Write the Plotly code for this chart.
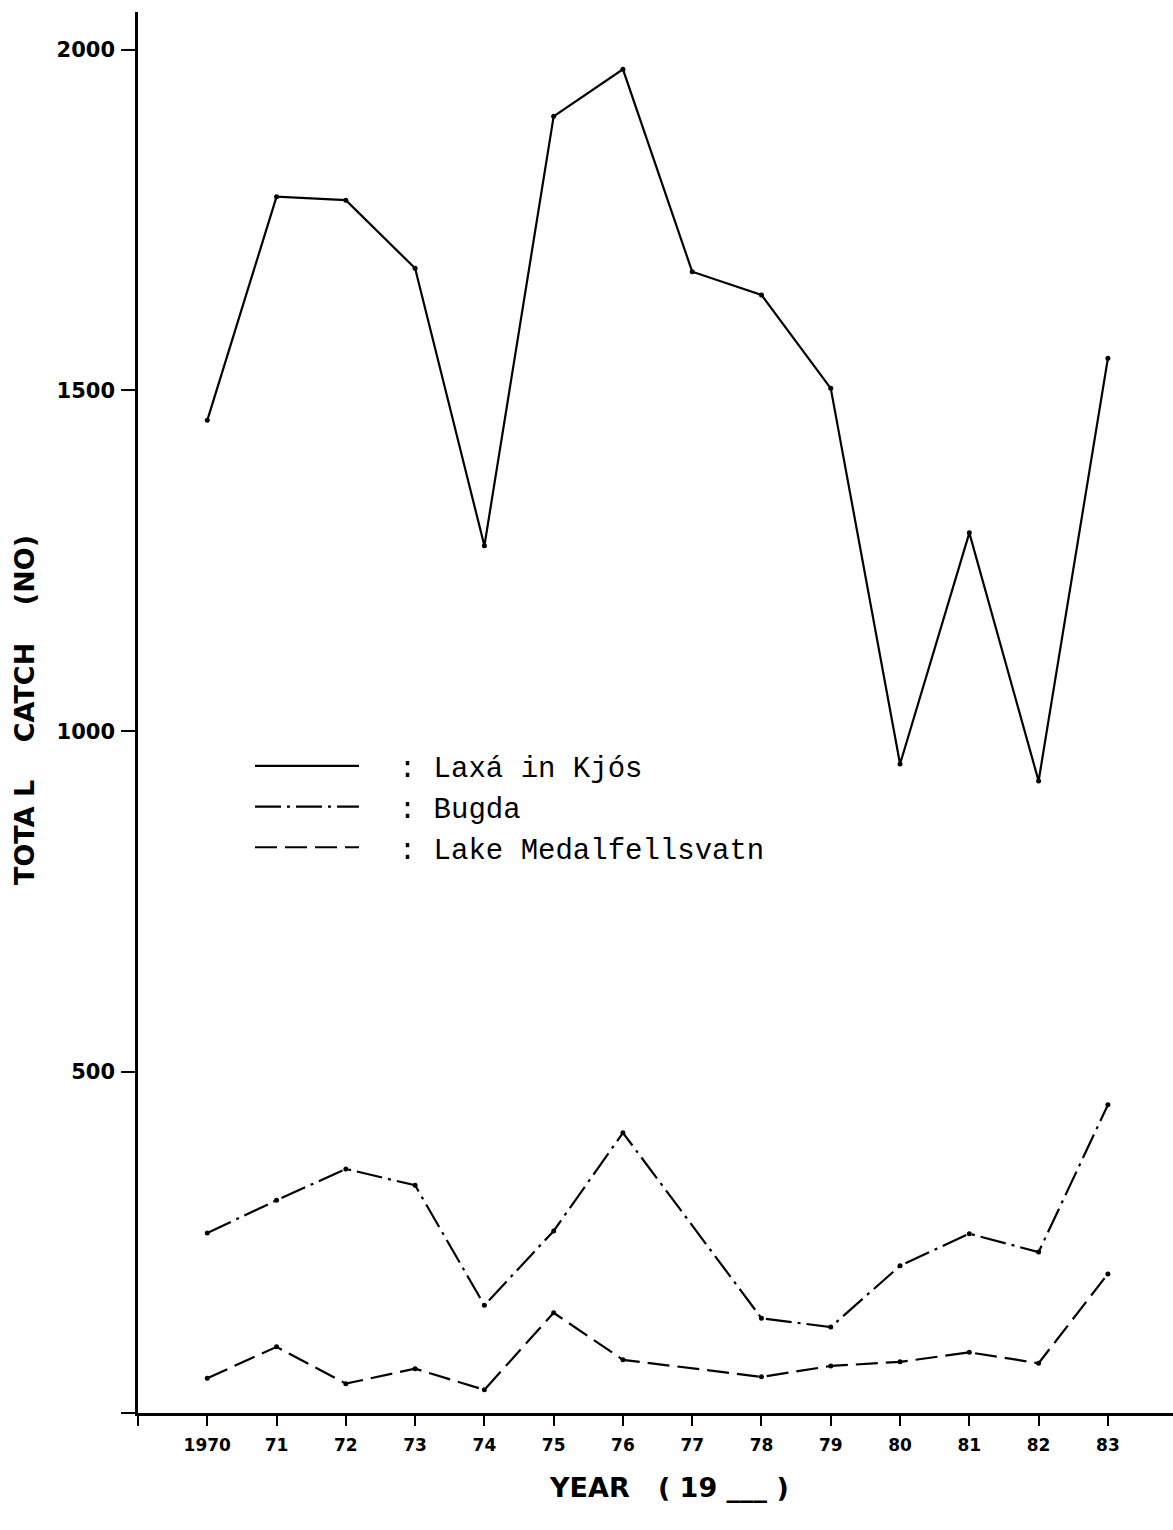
import plotly.graph_objects as go

years = [1970, 1971, 1972, 1973, 1974, 1975, 1976, 1977, 1978, 1979, 1980, 1981, 1982, 1983]
laxa = [1456, 1784, 1779, 1679, 1272, 1902, 1971, 1674, 1640, 1503, 952, 1291, 927, 1547]
bugda = [264, 312, 358, 334, 158, 267, 411, None, 139, 126, 216, 263, 236, 452]
lake = [51, 97, 43, 65, 34, 147, 78, None, 53, 69, 75, 89, 73, 204]

x_tickvals = [1969] + years
x_ticktext = [""] + ["1970"] + [str(y)[2:] for y in years[1:]]
y_tickvals = [0, 500, 1000, 1500, 2000]
y_ticktext = ["", "500", "1000", "1500", "2000"]

names = ["  : Laxá in Kjós", "  : Bugda", "  : Lake Medalfellsvatn"]
dashes = ["solid", "26px,6px,3px,6px", "22px,8px"]

fig = go.Figure()
for vals, name, dash in zip([laxa, bugda, lake], names, dashes):
    fig.add_trace(go.Scatter(
        x=years, y=vals, name=name, mode="lines", connectgaps=True,
        line=dict(color="black", width=2.2, dash=dash),
    ))
for vals in [laxa, bugda, lake]:
    fig.add_trace(go.Scatter(
        x=years, y=vals, mode="markers", showlegend=False,
        marker=dict(color="black", size=5),
    ))

fig.update_layout(
    width=1173, height=1530,
    margin=dict(l=138, r=0, t=12, b=117),
    paper_bgcolor="white", plot_bgcolor="white",
    showlegend=True,
    legend=dict(
        x=(250 - 138) / 1035, y=0.48, xanchor="left", yanchor="top",
        font=dict(family="Liberation Mono", size=29, color="black"),
        itemwidth=104, bgcolor="rgba(0,0,0,0)", tracegroupgap=0,
    ),
    xaxis=dict(
        range=[1969, 1983.94], showgrid=False, zeroline=False,
        showline=True, linecolor="black", linewidth=2.5,
        tickmode="array", tickvals=x_tickvals, ticktext=x_ticktext,
        ticks="outside", ticklen=10, tickwidth=2, tickcolor="black",
        ticklabelstandoff=5,
        tickfont=dict(family="DejaVu Sans", size=17, color="black", weight="bold"),
    ),
    yaxis=dict(
        range=[0, 2055], showgrid=False, zeroline=False,
        showline=True, linecolor="black", linewidth=2.5,
        tickmode="array", tickvals=y_tickvals, ticktext=y_ticktext,
        ticks="outside", ticklen=14, tickwidth=2, tickcolor="black",
        ticklabelstandoff=2,
        tickfont=dict(family="DejaVu Sans", size=21, color="black", weight="bold"),
    ),
    annotations=[
        dict(text="TOTA L    CATCH    (NO)", xref="paper", yref="paper",
             x=(25 - 138) / 1035, y=(1413 - 710) / 1401, xanchor="center", yanchor="middle",
             textangle=-90, showarrow=False,
             font=dict(family="DejaVu Sans", size=27, color="black", weight="bold")),
        dict(text="YEAR   ( 19 ___ )", xref="paper", yref="paper",
             x=(669 - 138) / 1035, y=-(1487 - 1413) / 1401, xanchor="center", yanchor="middle",
             showarrow=False,
             font=dict(family="DejaVu Sans", size=27, color="black", weight="bold")),
    ],
)

fig.write_html("out.html", config={"displayModeBar": False},
               post_script="document.body.style.margin='0';")
